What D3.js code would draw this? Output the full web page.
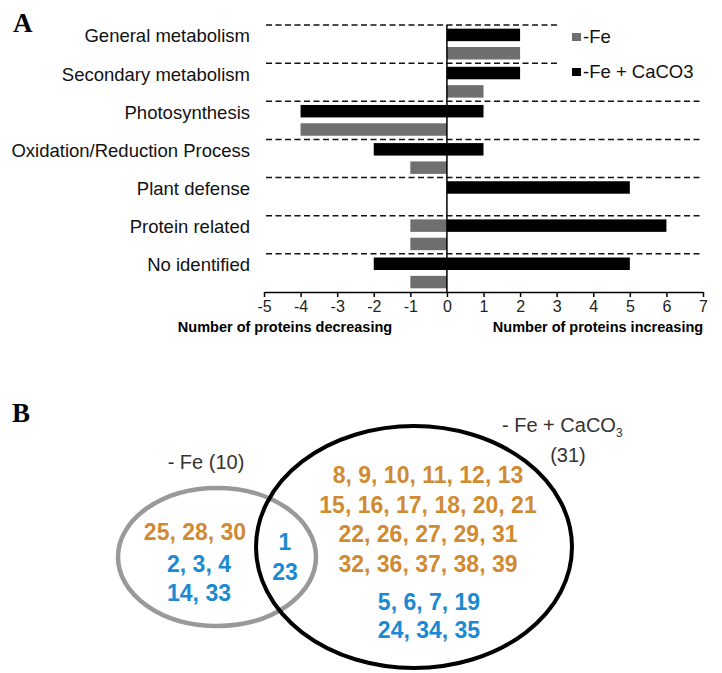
<!DOCTYPE html>
<html>
<head>
<meta charset="utf-8">
<script src="https://cdn.jsdelivr.net/npm/d3@7"></script>
<style>
  body { margin: 0; background: #fff; }
  svg { display: block; font-family: "Liberation Sans", Arial, sans-serif; }
</style>
</head>
<body>
<div id="chart"></div>
<script>
var categories = ["General metabolism", "Secondary metabolism", "Photosynthesis",
                  "Oxidation/Reduction Process", "Plant defense", "Protein related", "No identified"];
// -Fe + CaCO3 (black, upper row)
var cacoDecrease = [0, 0, 4, 2, 0, 0, 2];
var cacoIncrease = [2, 2, 1, 1, 5, 6, 5];
// -Fe (grey, lower row)
var feDecrease = [0, 0, 4, 1, 0, 1, 1];
var feIncrease = [2, 1, 0, 0, 0, 0, 0];
// grey bar that sits on the upper row in "Protein related"
var feUpperDecrease = [0, 0, 0, 0, 0, 1, 0];
var xTicks = [-5, -4, -3, -2, -1, 0, 1, 2, 3, 4, 5, 6, 7];
var seriesNames = ["-Fe", "-Fe + CaCO3"];

// venn lists
var feOnlyOrange = ["25, 28, 30"];
var feOnlyBlue = ["2, 3, 4", "14, 33"];
var sharedBlue = ["1", "23"];
var cacoOnlyOrange = ["8, 9, 10, 11, 12, 13", "15, 16, 17, 18, 20, 21", "22, 26, 27, 29, 31", "32, 36, 37, 38, 39"];
var cacoOnlyBlue = ["5, 6, 7, 19", "24, 34, 35"];

var width = 722, height = 673;
var black = "#000", grey = "#6f6f6f";
var orange = "#d08a32", blue = "#1c8ad2";

var svg = d3.select("#chart").append("svg")
            .attr("width", width)
            .attr("height", height);

// ---------- panel A ----------
var x = d3.scaleLinear().domain([-5, 7]).range([264, 703]);
var y = d3.scaleBand().domain(categories).range([25, 292]);
var row = d3.scaleBand().domain(["caco", "fe"]).range([0, y.bandwidth()])
            .paddingInner(0.32).paddingOuter(0.2);

svg.append("text")
   .attr("x", 13).attr("y", 32)
   .style("font-family", "'Liberation Serif', 'Times New Roman', serif")
   .style("font-weight", "bold").style("font-size", "27px")
   .text("A");

// dashed separators
svg.append("g").selectAll("line")
   .data(categories)
   .enter()
   .append("line")
   .attr("x1", 266)
   .attr("x2", function(d, i){ return i < 2 ? 558 : 700; })
   .attr("y1", function(d){ return y(d); })
   .attr("y2", function(d){ return y(d); })
   .style("stroke", "#111")
   .style("stroke-width", 1.5)
   .style("stroke-dasharray", "6,3.5");

function bars(values, sign, rowKey, color){
	var rows = categories.map(function(c, i){ return {cat: c, v: values[i]}; })
	                     .filter(function(d){ return d.v > 0; });
	svg.append("g").selectAll("rect")
	   .data(rows)
	   .enter()
	   .append("rect")
	   .attr("x", function(d){ return sign < 0 ? x(-d.v) : x(0); })
	   .attr("width", function(d){ return Math.abs(x(d.v) - x(0)); })
	   .attr("y", function(d){ return y(d.cat) + row(rowKey); })
	   .attr("height", row.bandwidth())
	   .style("fill", color);
}
bars(cacoDecrease, -1, "caco", black);
bars(cacoIncrease, 1, "caco", black);
bars(feDecrease, -1, "fe", grey);
bars(feIncrease, 1, "fe", grey);
bars(feUpperDecrease, -1, "caco", grey);

// category labels
svg.append("g").selectAll("text")
   .data(categories)
   .enter()
   .append("text")
   .attr("x", 250)
   .attr("y", function(d){ return y(d) + 11; })
   .attr("dy", "0.35em")
   .style("text-anchor", "end")
   .style("font-size", "18.5px")
   .style("fill", "#111")
   .text(function(d){ return d; });

// zero line
svg.append("line")
   .attr("x1", x(0)).attr("x2", x(0))
   .attr("y1", 25).attr("y2", 292)
   .style("stroke", "#000").style("stroke-width", 1.5);

// x axis
var axis = svg.append("g")
   .attr("transform", "translate(0,292)")
   .call(d3.axisBottom(x).tickValues(xTicks).tickSize(5).tickPadding(4)
           .tickFormat(d3.format("d")).tickSizeOuter(0));
axis.select(".domain").style("stroke", "#000").style("stroke-width", 1.5);
axis.selectAll(".tick line").style("stroke", "#000").style("stroke-width", 1.5);
axis.selectAll(".tick text")
    .style("font-family", "'Liberation Sans', Arial, sans-serif")
    .style("font-size", "16px").style("fill", "#222")
    .text(function(d){ return d < 0 ? "-" + Math.abs(d) : d; });

svg.append("text")
   .attr("x", 285).attr("y", 332)
   .style("text-anchor", "middle").style("font-weight", "bold").style("font-size", "14.5px")
   .text("Number of proteins decreasing");
svg.append("text")
   .attr("x", 598).attr("y", 332)
   .style("text-anchor", "middle").style("font-weight", "bold").style("font-size", "14.5px")
   .text("Number of proteins increasing");

// legend
var legend = svg.append("g").selectAll("g")
   .data(seriesNames)
   .enter()
   .append("g")
   .attr("transform", function(d, i){ return "translate(572," + (37 + i * 35) + ")"; });
legend.append("rect")
   .attr("x", 0).attr("y", -4).attr("width", 9).attr("height", 8)
   .style("fill", function(d, i){ return i === 0 ? grey : black; });
legend.append("text")
   .attr("x", 11).attr("y", 0).attr("dy", "0.35em")
   .style("font-size", "18.5px").style("fill", "#111")
   .text(function(d){ return d; });

// ---------- panel B ----------
svg.append("text")
   .attr("x", 12).attr("y", 422)
   .style("font-family", "'Liberation Serif', 'Times New Roman', serif")
   .style("font-weight", "bold").style("font-size", "27px")
   .text("B");

svg.append("ellipse")
   .attr("cx", 217).attr("cy", 557).attr("rx", 99).attr("ry", 69)
   .style("fill", "none").style("stroke", "#999").style("stroke-width", 4.5);
svg.append("ellipse")
   .attr("cx", 414).attr("cy", 547).attr("rx", 158).attr("ry", 121)
   .style("fill", "none").style("stroke", "#000").style("stroke-width", 4);

svg.append("text")
   .attr("x", 206).attr("y", 469)
   .style("text-anchor", "middle").style("font-size", "20px").style("fill", "#333")
   .text("- Fe (10)");
var cacoLabel = svg.append("text")
   .attr("x", 502).attr("y", 432)
   .style("font-size", "20px").style("fill", "#333");
cacoLabel.append("tspan").text("- Fe + CaCO");
cacoLabel.append("tspan").attr("dy", 5).style("font-size", "12px").text("3");
svg.append("text")
   .attr("x", 568).attr("y", 462)
   .style("text-anchor", "middle").style("font-size", "20px").style("fill", "#333")
   .text("(31)");

function numberRows(list, cx, y0, step, color){
	svg.append("g").selectAll("text")
	   .data(list)
	   .enter()
	   .append("text")
	   .attr("x", cx)
	   .attr("y", function(d, i){ return y0 + i * step; })
	   .attr("dy", "0.35em")
	   .style("text-anchor", "middle")
	   .style("font-weight", "bold")
	   .style("font-size", "23px")
	   .style("fill", color)
	   .text(function(d){ return d; });
}
numberRows(feOnlyOrange, 195, 532, 30, orange);
numberRows(feOnlyBlue, 199, 564, 29, blue);
numberRows(sharedBlue, 285, 542, 30, blue);
numberRows(cacoOnlyOrange, 428, 475, 29.5, orange);
numberRows(cacoOnlyBlue, 429, 602, 28, blue);
</script>
</body>
</html>
